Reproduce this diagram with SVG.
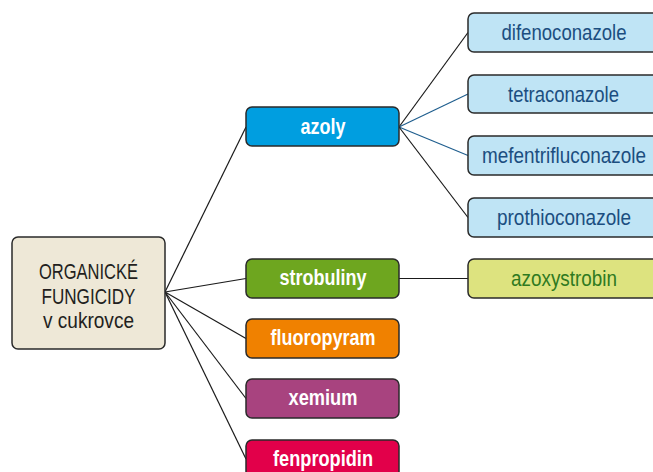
<svg xmlns="http://www.w3.org/2000/svg" width="653" height="472" viewBox="0 0 653 472">
<style>
.box{stroke:#2a2a2a;stroke-width:1.5}
.root{fill:#eee8d7}
.mid text{fill:#fff;font-weight:bold}
.leaf{fill:#bfe4f5}
.leaf-t{fill:#1b4e80}
text{font-family:"Liberation Sans Narrow","Liberation Sans",Arial,sans-serif;font-size:21.5px;text-anchor:middle}
.c{stroke:#1a1a1a;stroke-width:1.2;fill:none}
.cb{stroke:#1f5e8e;stroke-width:1.2;fill:none}
</style>
<rect width="653" height="472" fill="#fff"/>
<g id="connectors">
<line class="c" x1="165" y1="292" x2="246" y2="127"/>
<line class="c" x1="165" y1="292" x2="246" y2="278.5"/>
<line class="c" x1="165" y1="292" x2="246" y2="338.5"/>
<line class="c" x1="165" y1="292" x2="246" y2="398.5"/>
<line class="c" x1="165" y1="292" x2="246" y2="459"/>
<line class="c" x1="399" y1="127" x2="468" y2="32.5"/>
<line class="cb" x1="399" y1="127" x2="468" y2="94"/>
<line class="cb" x1="399" y1="127" x2="468" y2="155.5"/>
<line class="c" x1="399" y1="127" x2="468" y2="217.5"/>
<line class="c" x1="399" y1="278.5" x2="468" y2="278.5"/>
</g>
<g id="root">
<rect class="box root" x="12" y="237" width="153" height="112" rx="6"/>
<text x="88.5" y="279" font-size="22.5" textLength="99" lengthAdjust="spacingAndGlyphs" fill="#231f20">ORGANICKÉ</text>
<text x="88.5" y="304" font-size="22.5" textLength="94" lengthAdjust="spacingAndGlyphs" fill="#231f20">FUNGICIDY</text>
<text x="88.5" y="328" font-size="22.5" textLength="91" lengthAdjust="spacingAndGlyphs" fill="#231f20">v cukrovce</text>
</g>
<g id="azoly" class="mid">
<rect class="box" x="246" y="107" width="153" height="39" rx="6" fill="#009ee0"/>
<text x="323" y="133.5" textLength="45" lengthAdjust="spacingAndGlyphs">azoly</text>
</g>
<g id="strobuliny" class="mid">
<rect class="box" x="246" y="259" width="153" height="39" rx="6" fill="#6ea61f"/>
<text x="323" y="285" textLength="87" lengthAdjust="spacingAndGlyphs">strobuliny</text>
</g>
<g id="fluoropyram" class="mid">
<rect class="box" x="246" y="319" width="153" height="39" rx="6" fill="#f08100"/>
<text x="323" y="345" textLength="105" lengthAdjust="spacingAndGlyphs">fluoropyram</text>
</g>
<g id="xemium" class="mid">
<rect class="box" x="246" y="379" width="153" height="39" rx="6" fill="#a8437f"/>
<text x="323" y="405" textLength="69" lengthAdjust="spacingAndGlyphs">xemium</text>
</g>
<g id="fenpropidin" class="mid">
<rect class="box" x="246" y="440" width="153" height="39" rx="6" fill="#e2004a"/>
<text x="323" y="466" textLength="100" lengthAdjust="spacingAndGlyphs">fenpropidin</text>
</g>
<g id="difenoconazole">
<rect class="box leaf" x="468" y="13" width="192" height="39" rx="6"/>
<text class="leaf-t" x="564" y="40" textLength="125" lengthAdjust="spacingAndGlyphs">difenoconazole</text>
</g>
<g id="tetraconazole">
<rect class="box leaf" x="468" y="75" width="192" height="38" rx="6"/>
<text class="leaf-t" x="563.5" y="101.5" textLength="111" lengthAdjust="spacingAndGlyphs">tetraconazole</text>
</g>
<g id="mefentrifluconazole">
<rect class="box leaf" x="468" y="136" width="192" height="39" rx="6"/>
<text class="leaf-t" x="564" y="163" textLength="164" lengthAdjust="spacingAndGlyphs">mefentrifluconazole</text>
</g>
<g id="prothioconazole">
<rect class="box leaf" x="468" y="198" width="192" height="39" rx="6"/>
<text class="leaf-t" x="564" y="225" textLength="134" lengthAdjust="spacingAndGlyphs">prothioconazole</text>
</g>
<g id="azoxystrobin">
<rect class="box" x="468" y="259" width="192" height="39" rx="6" fill="#dde37f"/>
<text x="564" y="286" fill="#2f7a1f" textLength="106" lengthAdjust="spacingAndGlyphs">azoxystrobin</text>
</g>
</svg>
